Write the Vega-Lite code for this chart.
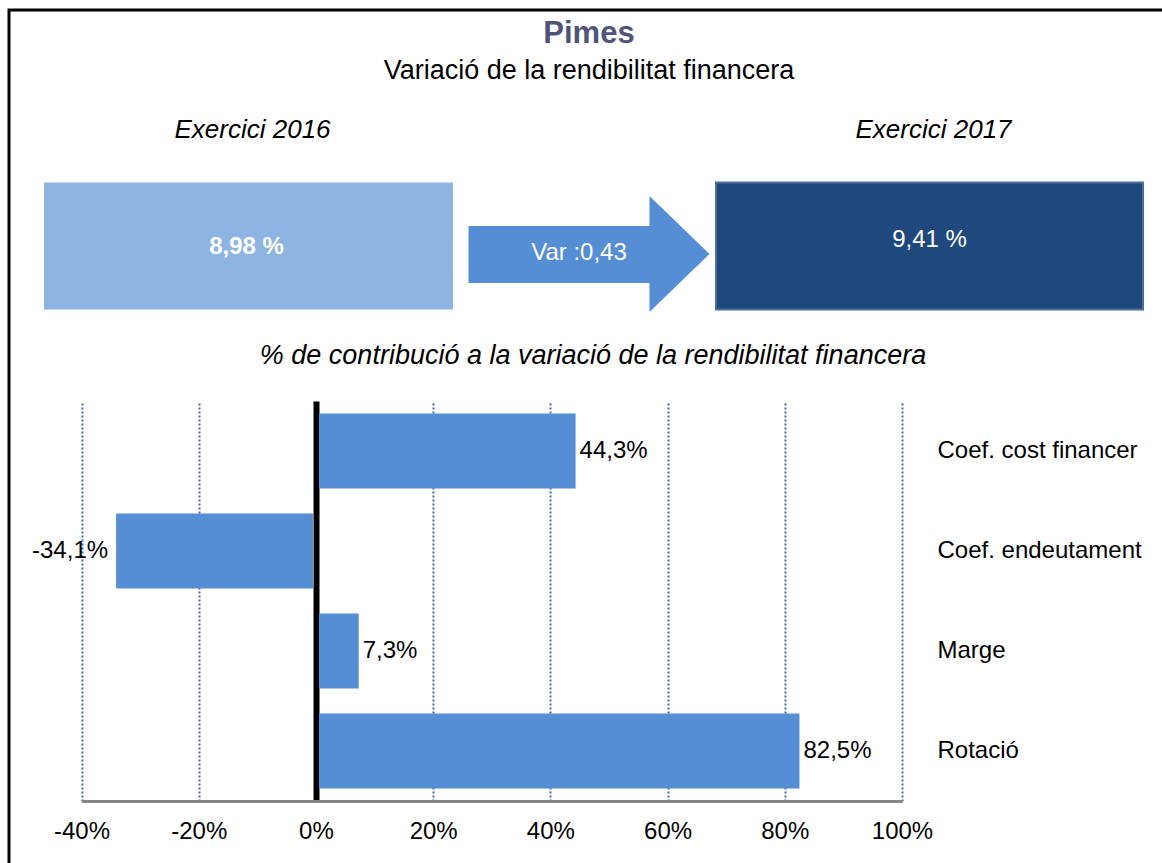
{
  "$schema": "https://vega.github.io/schema/vega-lite/v6.json",
  "width": 1160,
  "height": 1182,
  "autosize": {"type": "none"},
  "padding": {"left": 9, "top": 10, "right": 0, "bottom": 0},
  "background": "white",
  "config": {
    "font": "Liberation Sans",
    "view": {"stroke": "black", "strokeWidth": 3},
    "locale": {"number": {"decimal": ",", "thousands": ".", "grouping": [3], "currency": ["", " €"], "minus": "-"}}
  },
  "title": {
    "text": "Pimes",
    "subtitle": "Variació de la rendibilitat financera",
    "anchor": "middle",
    "frame": "group",
    "orient": "top",
    "offset": -75,
    "font": "Liberation Sans",
    "fontSize": 31,
    "fontWeight": "bold",
    "color": "#50547A",
    "subtitleFont": "Liberation Sans",
    "subtitleFontSize": 27,
    "subtitleColor": "black",
    "subtitlePadding": 8
  },
  "layer": [
    {
      "data": {"values": [
        {"factor": "Coef. cost financer", "pct": 0.443},
        {"factor": "Coef. endeutament", "pct": -0.341},
        {"factor": "Marge", "pct": 0.073},
        {"factor": "Rotació", "pct": 0.825}
      ]},
      "encoding": {
        "y": {
          "field": "factor", "type": "nominal", "sort": null,
          "scale": {"domain": ["Coef. cost financer", "Coef. endeutament", "Marge", "Rotació"], "range": [391, 791], "paddingInner": 0.25, "paddingOuter": 0.125},
          "axis": {"orient": "right", "offset": -267, "title": null, "ticks": false, "domain": false, "grid": false,
                   "labelFontSize": 24, "labelColor": "black", "labelPadding": 35, "labelLimit": 400, "labelAlign": "left"}
        },
        "x": {
          "field": "pct", "type": "quantitative",
          "scale": {"domain": [-0.4, 1], "range": [72.5, 893], "nice": false, "zero": false},
          "axis": {"orient": "bottom", "offset": -391, "title": null, "values": [-0.4, -0.2, 0, 0.2, 0.4, 0.6, 0.8, 1],
                   "format": ".0%", "ticks": false, "domainColor": "#868686", "domainWidth": 3,
                   "labelFontSize": 24, "labelColor": "black", "labelPadding": 18, "labelFlush": false, "labelOverlap": false,
                   "grid": true,
                   "gridColor": {"condition": {"test": "datum.value === 0", "value": "black"}, "value": "#3F6CA8"},
                   "gridWidth": {"condition": {"test": "datum.value === 0", "value": 6}, "value": 2},
                   "gridDash": {"condition": {"test": "datum.value === 0", "value": []}, "value": [2, 2]},
                   "gridOpacity": 1}
        }
      },
      "layer": [
        {
          "transform": [{"filter": "datum.pct >= 0"}],
          "mark": {"type": "bar", "color": "#558ED5", "x2Offset": 3},
          "encoding": {"x2": {"datum": 0}}
        },
        {
          "transform": [{"filter": "datum.pct < 0"}],
          "mark": {"type": "bar", "color": "#558ED5", "x2Offset": -3},
          "encoding": {"x2": {"datum": 0}}
        },
        {
          "transform": [{"filter": "datum.pct >= 0"}],
          "mark": {"type": "text", "align": "left", "baseline": "middle", "dx": 4, "fontSize": 24, "color": "black"},
          "encoding": {"text": {"field": "pct", "type": "quantitative", "format": ".1%"}}
        },
        {
          "transform": [{"filter": "datum.pct < 0"}],
          "mark": {"type": "text", "align": "right", "baseline": "middle", "dx": -8, "fontSize": 24, "color": "black"},
          "encoding": {"text": {"field": "pct", "type": "quantitative", "format": ".1%"}}
        }
      ]
    },
    {
      "data": {"values": [
        {"pos": "2016", "header": "Exercici 2016", "rf": 8.98},
        {"pos": "var", "rf": 0.43},
        {"pos": "2017", "header": "Exercici 2017", "rf": 9.41}
      ]},
      "encoding": {
        "x": {"field": "pos", "type": "nominal",
              "scale": {"type": "point", "domain": ["2016", "var", "2017"], "range": [239.5, 920.5], "padding": 0},
              "axis": null}
      },
      "layer": [
        {
          "transform": [{"filter": "datum.pos === '2016'"}],
          "mark": {"type": "bar", "width": 409, "height": 127, "color": "#8EB4E3"},
          "encoding": {"y": {"datum": "box", "type": "nominal", "scale": {"type": "point", "domain": ["header", "box", "caption"], "range": [120, 352], "padding": 0}, "axis": null}}
        },
        {
          "transform": [{"filter": "datum.pos === '2017'"}],
          "mark": {"type": "bar", "width": 427, "height": 127, "color": "#1F497D", "stroke": "#4F6D9A", "strokeWidth": 2},
          "encoding": {"y": {"datum": "box", "type": "nominal", "scale": {"type": "point", "domain": ["header", "box", "caption"], "range": [120, 352], "padding": 0}, "axis": null}}
        },
        {
          "transform": [{"filter": "datum.pos === 'var'"}],
          "mark": {"type": "point", "shape": "M-1,-0.166L0.502,-0.166L0.502,-0.415L1,0.066L0.502,0.548L0.502,0.307L-1,0.307Z",
                   "size": 58081, "filled": true, "color": "#558ED5", "opacity": 1, "strokeWidth": 0},
          "encoding": {"y": {"datum": "box", "type": "nominal", "scale": {"type": "point", "domain": ["header", "box", "caption"], "range": [120, 352], "padding": 0}, "axis": null}}
        },
        {
          "transform": [{"filter": "datum.pos === '2016'"}, {"calculate": "format(datum.rf, '.2f') + ' %'", "as": "label"}],
          "mark": {"type": "text", "fontSize": 24, "fontWeight": "bold", "color": "white", "baseline": "middle", "dx": -2, "dy": 1},
          "encoding": {
            "y": {"datum": "box", "type": "nominal", "scale": {"type": "point", "domain": ["header", "box", "caption"], "range": [120, 352], "padding": 0}, "axis": null},
            "text": {"field": "label", "type": "nominal"}
          }
        },
        {
          "transform": [{"filter": "datum.pos === '2017'"}, {"calculate": "format(datum.rf, '.2f') + ' %'", "as": "label"}],
          "mark": {"type": "text", "fontSize": 24, "color": "white", "baseline": "middle", "dy": -6},
          "encoding": {
            "y": {"datum": "box", "type": "nominal", "scale": {"type": "point", "domain": ["header", "box", "caption"], "range": [120, 352], "padding": 0}, "axis": null},
            "text": {"field": "label", "type": "nominal"}
          }
        },
        {
          "transform": [{"filter": "datum.pos === 'var'"}, {"calculate": "'Var :' + format(datum.rf, '.2f')", "as": "label"}],
          "mark": {"type": "text", "fontSize": 24, "color": "white", "baseline": "middle", "dx": -10, "dy": 7},
          "encoding": {
            "y": {"datum": "box", "type": "nominal", "scale": {"type": "point", "domain": ["header", "box", "caption"], "range": [120, 352], "padding": 0}, "axis": null},
            "text": {"field": "label", "type": "nominal"}
          }
        },
        {
          "transform": [{"filter": "isValid(datum.header)"}],
          "mark": {"type": "text", "fontSize": 26, "fontStyle": "italic", "color": "black", "baseline": "middle", "dx": 4},
          "encoding": {
            "y": {"datum": "header", "type": "nominal", "scale": {"type": "point", "domain": ["header", "box", "caption"], "range": [120, 352], "padding": 0}, "axis": null},
            "text": {"field": "header", "type": "nominal"}
          }
        },
        {
          "data": {"values": [{"caption": "% de contribució a la variació de la rendibilitat financera"}]},
          "mark": {"type": "text", "fontSize": 27, "fontStyle": "italic", "color": "black", "baseline": "middle", "dx": 4, "dy": -6},
          "encoding": {
            "x": {"datum": "var", "type": "nominal", "scale": {"type": "point", "domain": ["2016", "var", "2017"], "range": [239.5, 920.5], "padding": 0}, "axis": null},
            "y": {"datum": "caption", "type": "nominal", "scale": {"type": "point", "domain": ["header", "box", "caption"], "range": [120, 352], "padding": 0}, "axis": null},
            "text": {"field": "caption", "type": "nominal"}
          }
        }
      ]
    }
  ],
  "resolve": {"scale": {"x": "independent", "y": "independent"}, "axis": {"x": "independent", "y": "independent"}}
}
